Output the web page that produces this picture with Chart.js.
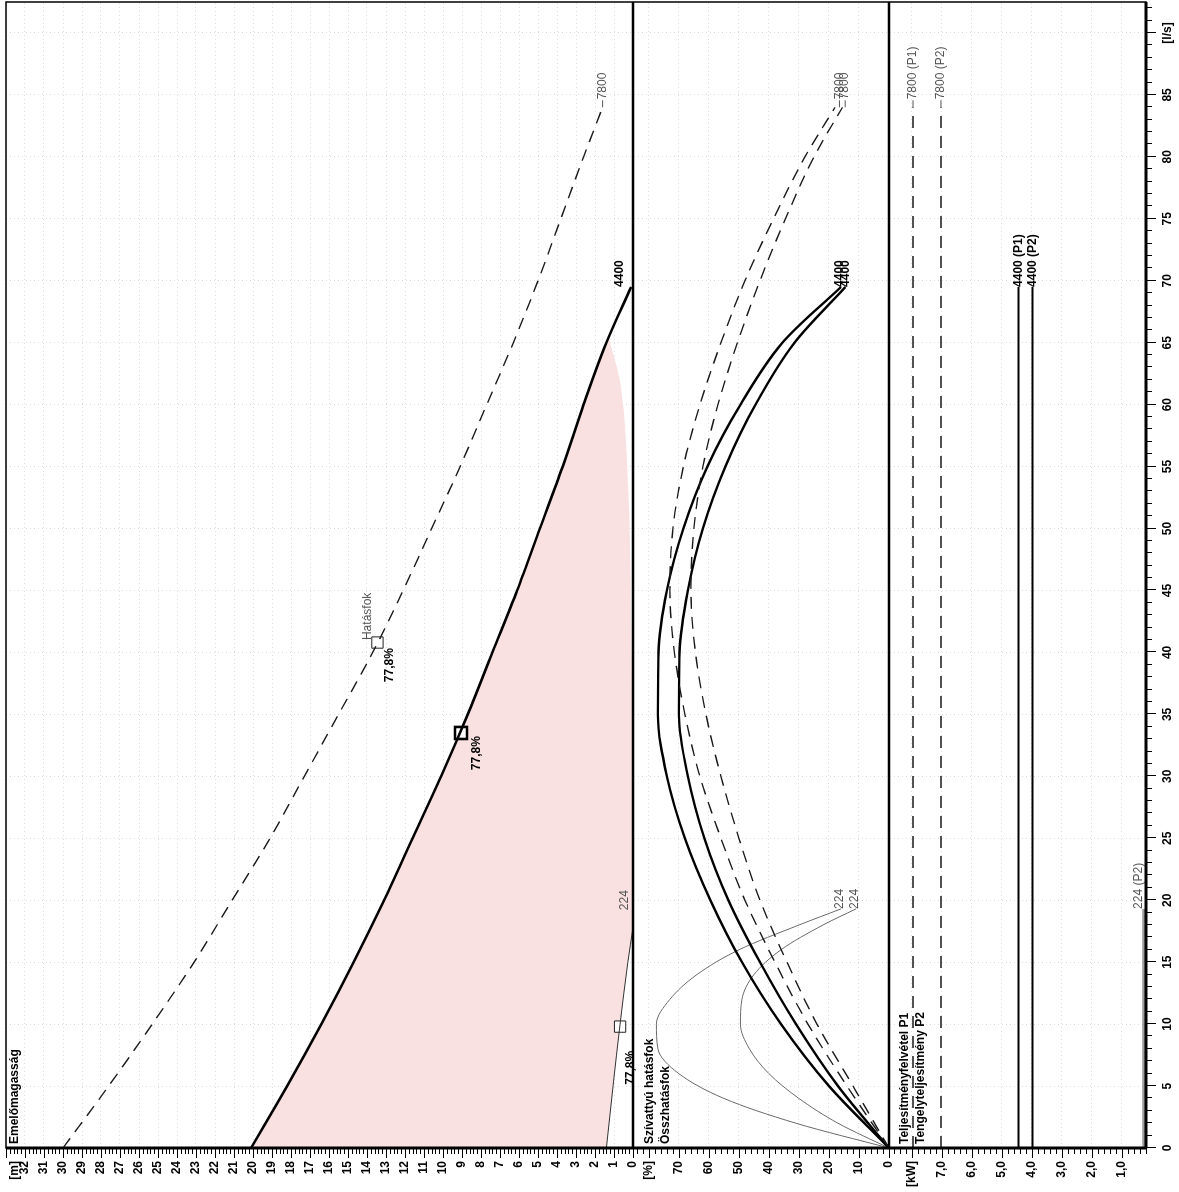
<!DOCTYPE html>
<html><head><meta charset="utf-8">
<script src="https://cdn.jsdelivr.net/npm/chart.js@4.4.0/dist/chart.umd.min.js"></script>
<style>
html,body{margin:0;padding:0;background:#fff;overflow:hidden;}
#wrap{position:absolute;left:0;top:0;width:1192px;height:1179px;transform-origin:0 0;transform:translateY(1192px) rotate(-90deg);}
canvas{display:block;}
</style></head><body>
<div id="wrap"><canvas id="c" width="1192" height="1179"></canvas></div>
<script>
// ---------------- DATA ----------------
// flow axis ticks [l/s]
const flowTicks = [0,5,10,15,20,25,30,35,40,45,50,55,60,65,70,75,80,85,90];
const flowTickLabels = ['0','5','10','15','20','25','30','35','40','45','50','55','60','65','70','75','80','85','[l/s]'];
// head axis [m]
const headTicks = [0,1,2,3,4,5,6,7,8,9,10,11,12,13,14,15,16,17,18,19,20,21,22,23,24,25,26,27,28,29,30,31,32,33];
const headTickLabels = ['0','1','2','3','4','5','6','7','8','9','10','11','12','13','14','15','16','17','18','19','20','21','22','23','24','25','26','27','28','29','30','31','32',''];
// efficiency axis [%]
const effTicks = [0,10,20,30,40,50,60,70,80];
const effTickLabels = ['0','10','20','30','40','50','60','70','[%]'];
// power axis [kW]
const powerTicks = [1,2,3,4,5,6,7,8];
const powerTickLabels = ['1,0','2,0','3,0','4,0','5,0','6,0','7,0','[kW]'];

// 7800 rpm curves
const flow7800 = [0,5,10,15,20,25,30,35,40,45,50,55,60,65,70,75,80,84];
const head7800 = [30.0,27.6,25.3,23.1,21.1,19.1,17.3,15.5,13.7,12.1,10.6,9.1,7.7,6.3,5.0,3.8,2.6,1.6];
const effPump7800 = [0,14,27,38,48,56,63,68,71.5,73,72,68.5,63,56,48,38.5,28,18];
const effTotal7800 = [0,12,24,34,43,50,56,61,64.5,66,65,62,57,50.5,43,34.5,25,15.5];
const powerFlow7800 = [0,84];
const powerP1_7800 = [7.96,7.96];
const powerP2_7800 = [7.03,7.03];

// 4400 rpm curves
const flow4400 = [0,5,10,15,20,25,30,35,40,45,50,55,60,65,69.5];
const head4400 = [20.1,18.2,16.4,14.7,13.1,11.6,10.1,8.7,7.4,6.1,4.9,3.7,2.6,1.4,0.1];
const effPump4400 = [0,20,36,49,59.5,68,74,77,76.8,74,68.5,60.5,49.5,35.5,16];
const effTotal4400 = [0,17,31,43,53.5,61.5,67,70,69.8,67,62,54.5,44.5,31.5,14.5];
const powerFlow4400 = [0,69.5];
const powerP1_4400 = [4.45,4.45];
const powerP2_4400 = [3.98,3.98];

// 224 rpm curves
const flowHead224 = [0,5,10,15,17.8];
const head224 = [1.4,1.05,0.68,0.27,0];
const flow224 = [0,2,4,6,8,10,12,14,16,18,19.3];
const effPump224 = [0,31,55,70,77,77.5,73,64,50,30,16];
const effTotal224 = [0,17,30,40,46.5,49.5,49,45,36,22,11];
const powerFlow224 = [0,19.3];
const powerP1_224 = [0.3,0.3];
const powerP2_224 = [0.26,0.26];

// lower edge of the shaded operating range
const rangeLowFlow = [0,5,10,15,17.8,40,55,62,65.5];
const rangeLowHead = [1.4,1.05,0.68,0.27,0,0.08,0.3,0.7,1.3];

// duty points (4400, 7800, 224)
const dutyFlow = [33.5,40.8,9.8];
const dutyHead = [9.05,13.45,0.68];
const dutyEffText = ['77,8%','77,8%','77,8%'];

// ---------------- CHART ----------------
const FONT = '"Liberation Sans", Arial, sans-serif';
const pts = (xs, ys) => xs.map((x, i) => ({x: x, y: ys[i]}));
const S_DASH = {borderColor:'#1a1a1a', borderWidth:1.4, borderDash:[12,8], pointRadius:0, fill:false, showLine:true, cubicInterpolationMode:'monotone'};
const S_SOLID = {borderColor:'#000', borderWidth:2.4, pointRadius:0, fill:false, showLine:true, cubicInterpolationMode:'monotone'};
const S_THIN = {borderColor:'#6a6a6a', borderWidth:1, pointRadius:0, fill:false, showLine:true, cubicInterpolationMode:'monotone'};
const PINK = 'rgb(250,225,225)';

const datasets = [
  {label:'rangeLow', data:pts(rangeLowFlow, rangeLowHead), yAxisID:'yH', borderWidth:0, borderColor:'rgba(0,0,0,0)', pointRadius:0, showLine:true, fill:false, cubicInterpolationMode:'monotone'},
  Object.assign({label:'H 4400', data:pts(flow4400, head4400), yAxisID:'yH', backgroundColor:PINK}, S_SOLID, {fill:{target:0, above:PINK, below:PINK}, borderWidth:2.6}),
  Object.assign({label:'H 7800', data:pts(flow7800, head7800), yAxisID:'yH'}, S_DASH),
  Object.assign({label:'H 224', data:pts(flowHead224, head224), yAxisID:'yH'}, S_THIN, {borderColor:'#333'}),
  Object.assign({label:'E 7800 p', data:pts(flow7800, effPump7800), yAxisID:'yE'}, S_DASH),
  Object.assign({label:'E 7800 t', data:pts(flow7800, effTotal7800), yAxisID:'yE'}, S_DASH),
  Object.assign({label:'E 4400 p', data:pts(flow4400, effPump4400), yAxisID:'yE'}, S_SOLID),
  Object.assign({label:'E 4400 t', data:pts(flow4400, effTotal4400), yAxisID:'yE'}, S_SOLID),
  Object.assign({label:'E 224 p', data:pts(flow224, effPump224), yAxisID:'yE'}, S_THIN),
  Object.assign({label:'E 224 t', data:pts(flow224, effTotal224), yAxisID:'yE'}, S_THIN),
  Object.assign({label:'P1 7800', data:pts(powerFlow7800, powerP1_7800), yAxisID:'yP'}, S_DASH),
  Object.assign({label:'P2 7800', data:pts(powerFlow7800, powerP2_7800), yAxisID:'yP'}, S_DASH),
  Object.assign({label:'P1 4400', data:pts(powerFlow4400, powerP1_4400), yAxisID:'yP'}, S_SOLID, {borderWidth:2}),
  Object.assign({label:'P2 4400', data:pts(powerFlow4400, powerP2_4400), yAxisID:'yP'}, S_SOLID, {borderWidth:2}),
  Object.assign({label:'P1 224', data:pts(powerFlow224, powerP1_224), yAxisID:'yP'}, S_THIN),
  Object.assign({label:'P2 224', data:pts(powerFlow224, powerP2_224), yAxisID:'yP'}, S_THIN),
  {label:'duty main', data:pts(dutyFlow.slice(0,1), dutyHead.slice(0,1)), yAxisID:'yH', showLine:false, pointStyle:'rect', pointRadius:8.5, borderWidth:2.6, borderColor:'#000', backgroundColor:'#fff'},
  {label:'duty other', data:pts(dutyFlow.slice(1), dutyHead.slice(1)), yAxisID:'yH', showLine:false, pointStyle:'rect', pointRadius:8, borderWidth:1, borderColor:'#222', backgroundColor:'#fff'}
];

function yScale(min, max, weight, tickVals, tickLabels) {
  return {
    type:'linear', position:'left', stack:'panels', stackWeight:weight, min:min, max:max,
    afterBuildTicks: s => { s.ticks = tickVals.map(v => ({value:v})); },
    afterFit: s => { s.width = 44; s.paddingTop = 0; s.paddingBottom = 0; },
    ticks: {callback:(v, i) => tickLabels[i], font:{family:FONT, size:12, weight:'bold'}, color:'#000', padding:3, autoSkip:false},
    grid: {color:'rgba(0,0,0,0.13)', lineWidth:1, drawTicks:true, tickLength:10, tickColor:'rgba(0,0,0,0)'},
    border: {display:false, dash:[1,3]}
  };
}

const curveLabels = [
  {axis:'yH', q:84, v:1.6, text:'7800', kind:'lead'},
  {axis:'yH', q:69.5, v:0.7, text:'4400', kind:'bold'},
  {axis:'yH', q:19.2, v:0.45, text:'224', kind:'gray'},
  {axis:'yH', q:41.0, v:13.95, text:'Hatásfok', kind:'gray'},
  {axis:'yH', q:37.6, v:12.8, text:dutyEffText[1], kind:'bold'},
  {axis:'yH', q:30.5, v:8.25, text:dutyEffText[0], kind:'bold'},
  {axis:'yH', q:5.1, v:0.1, text:dutyEffText[2], kind:'bold'},
  {axis:'yE', q:84, v:16.5, text:'7800', kind:'lead'},
  {axis:'yE', q:84, v:14.6, text:'7800', kind:'lead'},
  {axis:'yE', q:69.5, v:16.3, text:'4400', kind:'bold'},
  {axis:'yE', q:69.5, v:14.3, text:'4400', kind:'bold'},
  {axis:'yE', q:19.3, v:16.3, text:'224', kind:'gray'},
  {axis:'yE', q:19.3, v:11.3, text:'224', kind:'gray'},
  {axis:'yP', q:84, v:7.96, text:'7800 (P1)', kind:'lead'},
  {axis:'yP', q:84, v:7.03, text:'7800 (P2)', kind:'lead'},
  {axis:'yP', q:69.5, v:4.45, text:'4400 (P1)', kind:'bold'},
  {axis:'yP', q:69.5, v:3.98, text:'4400 (P2)', kind:'bold'},
  {axis:'yP', q:19.3, v:0.45, text:'224 (P2)', kind:'gray'}
];
const panelTitles = [
  {axis:'yH', first:9, lines:['Emelőmagasság']},
  {axis:'yE', first:17, lines:['Szívattyú hatásfok','Összhatásfok']},
  {axis:'yP', first:16, lines:['Teljesítményfelvétel P1','Tengelyteljesítmény P2']}
];

const deco = {
  id:'deco',
  afterDatasetsDraw(chart) {
    const ctx = chart.ctx, a = chart.chartArea, sx = chart.scales.x;
    ctx.save();
    // curve labels
    ctx.textBaseline = 'middle'; ctx.textAlign = 'left';
    curveLabels.forEach(l => {
      const s = chart.scales[l.axis];
      const x = sx.getPixelForValue(l.q), y = s.getPixelForValue(l.v);
      if (l.kind === 'bold') { ctx.font = 'bold 12px ' + FONT; ctx.fillStyle = '#000'; ctx.fillText(l.text, x, y); }
      else if (l.kind === 'gray') { ctx.font = '12px ' + FONT; ctx.fillStyle = '#555'; ctx.fillText(l.text, x, y); }
      else {
        ctx.strokeStyle = '#555'; ctx.lineWidth = 1;
        ctx.beginPath(); ctx.moveTo(x, y); ctx.lineTo(x + 7, y); ctx.stroke();
        ctx.font = '12px ' + FONT; ctx.fillStyle = '#555'; ctx.fillText(l.text, x + 8, y);
      }
    });
    // panel titles
    ctx.font = 'bold 12px ' + FONT; ctx.fillStyle = '#000';
    panelTitles.forEach(p => {
      const s = chart.scales[p.axis];
      p.lines.forEach((t, i) => ctx.fillText(t, a.left + 4, s.top + p.first + i * 16));
    });
    // frame & dividers
    ctx.strokeStyle = '#000';
    ctx.lineWidth = 1.5;
    ctx.strokeRect(a.left, a.top, a.right - a.left, a.bottom - a.top);
    ctx.lineWidth = 2.5;
    [chart.scales.yH.bottom, chart.scales.yE.bottom].forEach(y => {
      ctx.beginPath(); ctx.moveTo(a.left, y); ctx.lineTo(a.right, y); ctx.stroke();
    });
    ctx.lineWidth = 3;
    ctx.beginPath(); ctx.moveTo(a.left, a.bottom); ctx.lineTo(a.right, a.bottom); ctx.stroke();
    ctx.beginPath(); ctx.moveTo(a.left, a.top); ctx.lineTo(a.left, a.bottom); ctx.stroke();
    // tick marks
    ctx.lineWidth = 1;
    const yTicks = (s, step, major) => {
      const start = Math.ceil(s.min / step - 1e-9), end = Math.floor(s.max / step + 1e-9);
      for (let i = start; i <= end; i++) {
        const v = i * step;
        const y = Math.round(s.getPixelForValue(v)) + 0.5;
        const isMajor = Math.abs(v / major - Math.round(v / major)) < 1e-6;
        const len = isMajor ? 10 : 6;
        ctx.beginPath(); ctx.moveTo(a.left - len, y); ctx.lineTo(a.left, y); ctx.stroke();
      }
    };
    yTicks(chart.scales.yH, 0.2, 1);
    yTicks(chart.scales.yE, 2, 10);
    yTicks(chart.scales.yP, 0.2, 1);
    const nx = Math.floor(sx.max);
    for (let i = 0; i <= nx; i++) {
      const x = Math.round(sx.getPixelForValue(i)) + 0.5;
      const len = i % 5 === 0 ? 10 : 6;
      ctx.beginPath(); ctx.moveTo(x, a.bottom); ctx.lineTo(x, a.bottom + len); ctx.stroke();
    }
    // unit of head axis
    ctx.font = 'bold 12px ' + FONT; ctx.textAlign = 'right'; ctx.fillStyle = '#000';
    ctx.fillText('[m]', a.left - 13, a.top + 9);
    ctx.restore();
  }
};

new Chart(document.getElementById('c'), {
  type:'scatter',
  data:{datasets:datasets},
  plugins:[deco],
  options:{
    responsive:false, animation:false, devicePixelRatio:1,
    layout:{autoPadding:false, padding:{top:6, right:2, left:0, bottom:0}},
    plugins:{legend:{display:false}, tooltip:{enabled:false}, filler:{drawTime:'beforeDatasetsDraw'}},
    scales:{
      x:{type:'linear', position:'bottom', min:0, max:92.5,
        afterBuildTicks: s => { s.ticks = flowTicks.map(v => ({value:v})); },
        afterFit: s => { s.height = 33; s.paddingLeft = 0; s.paddingRight = 0; },
        ticks:{callback:(v, i) => flowTickLabels[i], font:{family:FONT, size:12, weight:'bold'}, color:'#000', padding:4, maxRotation:0, autoSkip:false},
        grid:{color:'rgba(0,0,0,0.13)', lineWidth:1, tickLength:10, tickColor:'rgba(0,0,0,0)'},
        border:{display:false, dash:[1,3]}},
      yP: yScale(0.2, 8.76, 257, powerTicks, powerTickLabels),
      yE: yScale(0, 85.3, 256, effTicks, effTickLabels),
      yH: yScale(0, 33, 627, headTicks, headTickLabels)
    }
  }
});
</script></body></html>
